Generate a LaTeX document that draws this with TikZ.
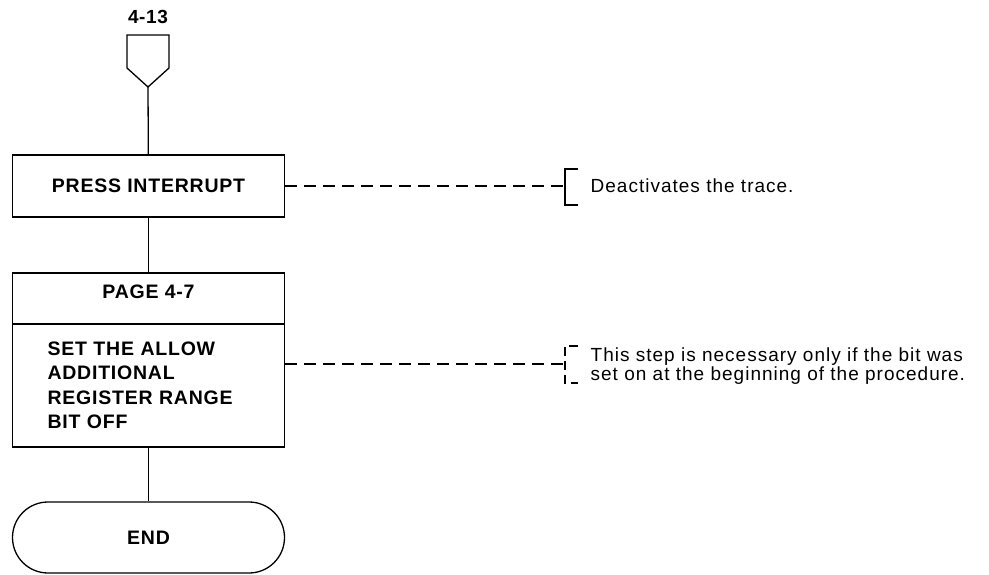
\documentclass[tikz,border=0pt]{standalone}
\usepackage{fontspec}
\setmainfont{Liberation Sans}
\usetikzlibrary{shapes.misc}
\begin{document}
\begin{tikzpicture}[x=1pt,y=-1pt,line width=1.3pt,
  boxfont/.style={font=\addfontfeatures{LetterSpace=4}\bfseries\fontsize{19.5}{24.5}\selectfont},
  procbox/.style={draw,boxfont,minimum width=272,inner sep=0pt},
  noteline/.style={dash pattern=on 12pt off 7pt},
  notetext/.style={font=\addfontfeatures{LetterSpace=5.3}\fontsize{19}{19}\selectfont,anchor=west,align=left,inner sep=0pt}]
\useasboundingbox (0,0) rectangle (989,575);
% off-page connector
\node[font=\addfontfeatures{LetterSpace=3}\bfseries\fontsize{19}{20}\selectfont] (lbl) at (148,17) {4-13};
\draw (127,35) -- (169,35) -- (169,68) -- (148,87) -- (127,68) -- cycle;
\coordinate (conn) at (148,87);
% boxes
\node[procbox,minimum height=62] (press) at (148.5,186) {PRESS INTERRUPT};
\node[procbox,minimum height=51,text depth=14pt] (hdr) at (148.5,298.5) {PAGE 4-7};
\node[procbox,minimum height=123,text width=202,inner xsep=35,align=left] (body) at (148.5,385.5)
  {SET THE ALLOW\\ADDITIONAL\\REGISTER RANGE\\BIT OFF};
\node[draw,boxfont,rounded rectangle,minimum width=272,minimum height=71,inner sep=0pt] (end) at (148.5,537.5) {END};
% flow
\draw (conn) -- (press);
\draw (press) -- (hdr);
\draw (body) -- (end);
% notes
\coordinate (b1) at (565,186);
\coordinate (b1t) at (565,169);
\coordinate (b1b) at (565,205);
\draw[noteline] (press.east) -- (b1);
\draw ([xshift=13]b1t) -- (b1t) -- (b1b) -- ([xshift=13]b1b);
\node[notetext] (n1) at (590,186) {Deactivates the trace.};
\coordinate (b2) at (565,364);
\coordinate (b2t) at (565,346);
\coordinate (b2b) at (565,383);
\draw[noteline] (body.east |- b2) -- (b2);
\draw[dash pattern=on 9pt off 5pt] ([xshift=13]b2t) -- (b2t) -- (b2b) -- ([xshift=13]b2b);
\node[notetext] (n2) at (590,366) {This step is necessary only if the bit was\\set on at the beginning of the procedure.};
\end{tikzpicture}
\end{document}
